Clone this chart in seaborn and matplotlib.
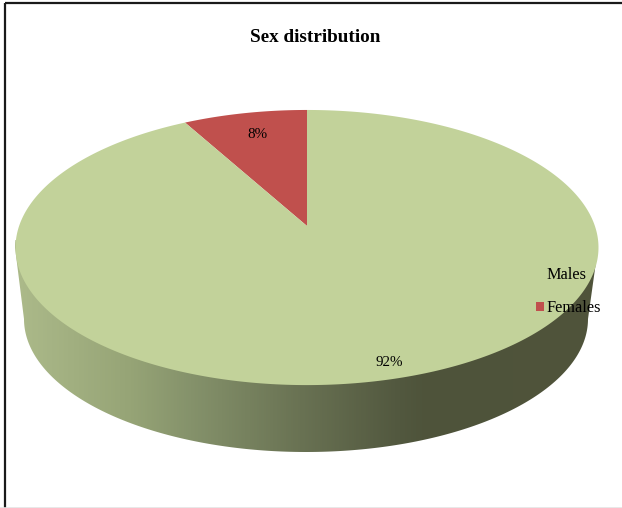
import numpy as np
import matplotlib
matplotlib.use("Agg")
import matplotlib.pyplot as plt
from matplotlib.colors import LinearSegmentedColormap
from matplotlib.patches import Polygon, Rectangle
import seaborn as sns

# values
categories = ["Females", "Males"]
shares = [8, 92]
legend_order = ["Males", "Females"]
title = "Sex distribution"

slice_colors = dict(zip(categories, sns.color_palette(["#c0504d", "#c2d29a"])))

# perspective of the tilted pie, in pixels of the 622x508 image
CX, CY = 307, 226
A, B, K = 287.9, 134.2, 0.1565


def project(u, v):
    w = 1 + K * v
    return np.column_stack([CX + A * u / w, CY - B * v / w])


sns.set_theme(style="white")
plt.rcParams["font.family"] = ["Liberation Serif", "DejaVu Serif"]

fig = plt.figure(figsize=(6.22, 5.08), dpi=100)
ax = fig.add_axes([0, 0, 1, 1])

# the pie gives the slice angles, then each slice is tilted
wedges, _ = ax.pie(shares, startangle=90, counterclock=True)
polys = {}
for name, wedge in zip(categories, wedges):
    ang = np.radians(np.linspace(wedge.theta1, wedge.theta2, 400))
    outline = project(np.r_[0, np.cos(ang)], np.r_[0, np.sin(ang)])
    polys[name] = Polygon(outline, closed=True, facecolor=slice_colors[name],
                          edgecolor="none", label=name, zorder=3)
    wedge.remove()

# side wall of the pie with its horizontal gradient
t = np.linspace(0, np.pi, 200)
top_edge = np.column_stack([306.5 + 291.5 * np.cos(t), 247.5 - 137.5 * np.sin(t)])
rim_edge = np.column_stack([306 + 282 * np.cos(t), 319 + 133 * np.sin(t)])[::-1]
wall_cmap = LinearSegmentedColormap.from_list("wall", [
    (0.0, "#acba8a"), (0.197, "#96a476"), (0.3, "#85926b"), (0.49, "#697253"),
    (0.66, "#52583f"), (0.71, "#4e533a"), (1.0, "#50543b"),
])
grad = np.linspace(0, 1, 600).reshape(1, -1)
wall = ax.imshow(grad, cmap=wall_cmap, extent=(15, 598, 455, 240), aspect="auto", zorder=1)
wall.set_clip_path(Polygon(np.vstack([top_edge, rim_edge]), closed=True, transform=ax.transData))

for name in categories:
    ax.add_patch(polys[name])

ax.set_aspect("auto")
ax.set_xlim(0, 622)
ax.set_ylim(508, 0)
ax.axis("off")

ax.text(315.5, 37, title, ha="center", va="center", fontsize=13.8, fontweight="bold", color="black", zorder=5)
ax.text(257, 134, f"{shares[0]}%", ha="center", va="center", fontsize=10.8, color="black", zorder=5)
ax.text(389, 362, f"{shares[1]}%", ha="center", va="center", fontsize=10.8, color="black", zorder=5)

ax.legend(handles=[polys[n] for n in legend_order], labels=legend_order,
          loc="center left", bbox_to_anchor=(536 / 622, 1 - 291.5 / 508),
          frameon=False, fontsize=11.7, handlelength=0.5, handleheight=0.5,
          handletextpad=0.15, labelspacing=1.05, borderpad=0, borderaxespad=0,
          labelcolor="black").set_zorder(5)

# outer chart border, cut by the image edge on the right
ax.add_patch(Rectangle((5, 3), 640, 520, fill=False, edgecolor="#1a1a1a", linewidth=1.6, zorder=6))
ax.axhline(507.5, color="#e4e4e4", linewidth=1.2, zorder=6)

fig.savefig("out.png", dpi=100)
